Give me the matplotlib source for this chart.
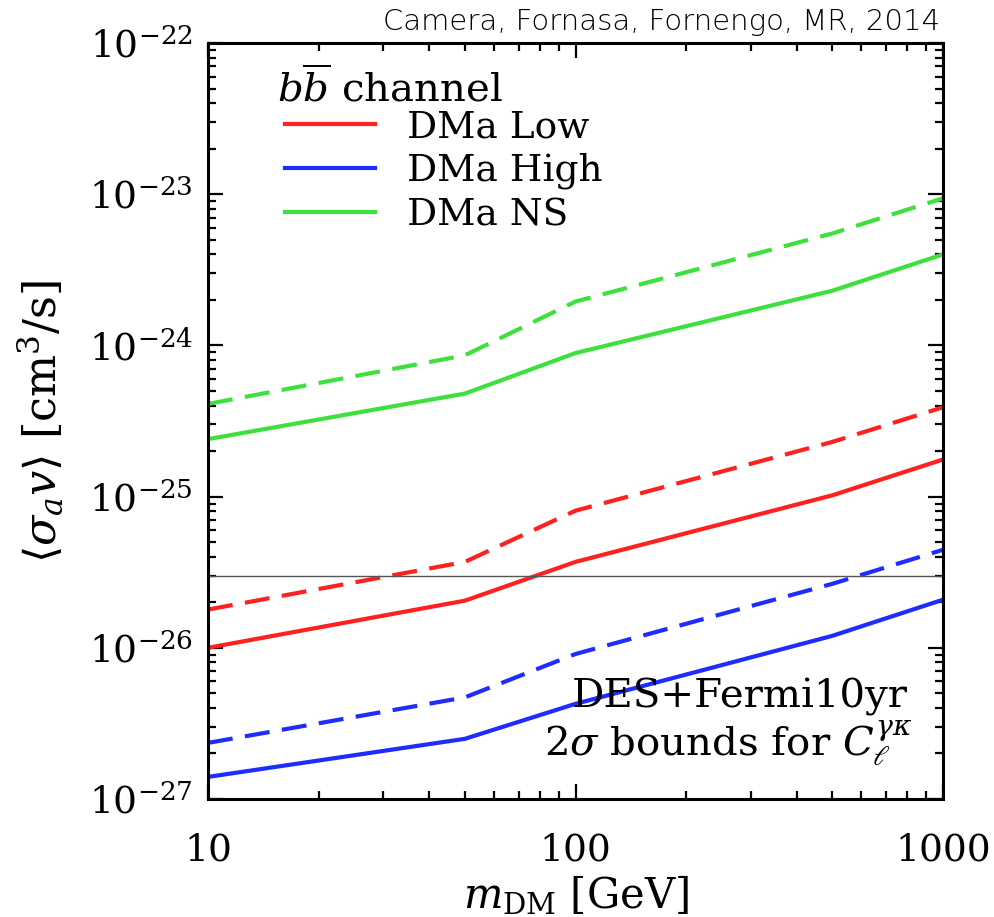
import matplotlib
matplotlib.use("Agg")
import matplotlib.pyplot as plt
from matplotlib.lines import Line2D
from matplotlib.ticker import LogLocator, FixedLocator, NullFormatter
import numpy as np

# Data
mass = [10, 50, 100, 500, 1000]
low_solid = [1.0e-26, 2.05e-26, 3.7e-26, 1.02e-25, 1.76e-25]
low_dash = [1.79e-26, 3.7e-26, 8.07e-26, 2.3e-25, 3.9e-25]
high_solid = [1.4e-27, 2.5e-27, 4.26e-27, 1.2e-26, 2.08e-26]
high_dash = [2.35e-27, 4.7e-27, 9.1e-27, 2.65e-26, 4.45e-26]
ns_solid = [2.4e-25, 4.8e-25, 8.9e-25, 2.3e-24, 4.0e-24]
ns_dash = [4.1e-25, 8.6e-25, 1.95e-24, 5.5e-24, 9.4e-24]
thermal = 3e-26
labels = ["DMa Low", "DMa High", "DMa NS"]
colors = ["#ff2020", "#1e2cff", "#3ee03e"]
xticks = [10, 100, 1000]
xticklabels = ["10", "100", "1000"]
yticks = [1e-27, 1e-26, 1e-25, 1e-24, 1e-23, 1e-22]
yticklabels = [r"$10^{-27}$", r"$10^{-26}$", r"$10^{-25}$", r"$10^{-24}$", r"$10^{-23}$", r"$10^{-22}$"]

plt.rcParams['font.family'] = ['DejaVu Serif']
plt.rcParams['mathtext.fontset'] = 'dejavuserif'

W, H = 994, 917
fig = plt.figure(figsize=(9.94, 9.17), dpi=100)
ax = fig.add_axes([208/W, 1-799/H, (943-208)/W, (799-43)/H])

def fx(px):
    return (px-208)/735
def fy(py):
    return (799-py)/756

dash = (0, (6, 3))
lw = 3
for s, d, c in [(low_solid, low_dash, colors[0]), (high_solid, high_dash, colors[1]), (ns_solid, ns_dash, colors[2])]:
    ax.plot(mass, s, color=c, lw=lw, solid_capstyle='butt')
    ax.plot(mass, d, color=c, lw=lw, linestyle=dash, dash_capstyle='butt')

ax.axhline(thermal, color='#555555', lw=1)

ax.set_xscale('log')
ax.set_yscale('log')
ax.set_xlim(10, 1000)
ax.set_ylim(1e-27, 1e-22)

ax.xaxis.set_major_locator(FixedLocator(xticks))
ax.set_xticklabels(xticklabels)
ax.yaxis.set_major_locator(FixedLocator(yticks))
ax.set_yticklabels(yticklabels)
ax.xaxis.set_minor_locator(LogLocator(base=10, subs=np.arange(2, 10)))
ax.yaxis.set_minor_locator(LogLocator(base=10, subs=np.arange(2, 10), numticks=20))
ax.xaxis.set_minor_formatter(NullFormatter())
ax.yaxis.set_minor_formatter(NullFormatter())

ax.tick_params(which='both', direction='in', top=True, right=True, width=1.6)
ax.tick_params(which='major', length=11, labelsize=27)
ax.tick_params(axis='x', which='major', pad=24)
ax.tick_params(axis='y', which='major', pad=11)
ax.tick_params(which='minor', length=5.5)
for sp in ax.spines.values():
    sp.set_linewidth(2.2)

ax.set_xlabel(r"$m_{\rm DM}$ [GeV]", fontsize=30, labelpad=4)
ax.set_ylabel(r"$\langle\sigma_a v\rangle$ [cm$^3$/s]", fontsize=32, labelpad=16)

handles = [Line2D([0], [0], color=c, lw=3) for c in colors]
leg = ax.legend(handles, labels, loc='upper left',
                frameon=False, fontsize=27, handlelength=2.4,
                borderaxespad=0.0, borderpad=0.0, labelspacing=0.21, handletextpad=0.85,
                bbox_to_anchor=(fx(285), fy(109)))
ax.text(fx(277), fy(102), r"$b\overline{b}$ channel", transform=ax.transAxes,
        ha='left', va='baseline', fontsize=29)

ax.text(fx(908), fy(697), "DES+Fermi10yr", transform=ax.transAxes, ha='right', va='center', fontsize=29)
ax.text(fx(913), fy(743), r"2$\sigma$ bounds for $C_\ell^{\gamma\kappa}$", transform=ax.transAxes,
        ha='right', va='center', fontsize=29)

fig.text(940/W, 1-30/H, "Camera, Fornasa, Fornengo, MR, 2014", ha='right', va='baseline',
         fontsize=21, family='DejaVu Sans', fontweight='light', color='black')

fig.savefig("out.png", dpi=100)
